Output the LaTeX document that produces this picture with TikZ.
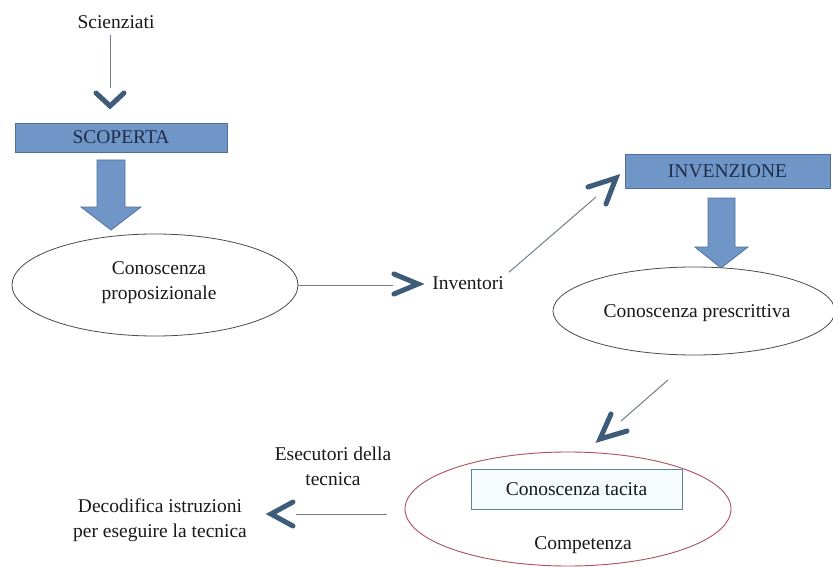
\documentclass[tikz,border=0pt]{standalone}
\usepackage{fontspec}
\setmainfont{Liberation Serif}
\usetikzlibrary{shapes.geometric,calc}
\definecolor{boxfill}{RGB}{112,150,200}
\definecolor{boxdraw}{RGB}{80,112,155}
\definecolor{boxtext}{RGB}{30,45,75}
\definecolor{chevcol}{RGB}{62,92,122}
\definecolor{thincol}{RGB}{115,125,140}
\definecolor{ellcol}{RGB}{75,75,75}
\definecolor{redell}{RGB}{175,80,95}
\definecolor{tacdraw}{RGB}{90,135,150}
\definecolor{tacfill}{RGB}{246,251,253}
\definecolor{txtcol}{RGB}{25,25,25}
\tikzset{
  lbl/.style={text=txtcol, inner sep=0pt, font=\fontsize{19.5}{25}\selectfont, align=center},
  bluebox/.style={draw=boxdraw, fill=boxfill, line width=0.8pt, text=boxtext, inner sep=0pt,
                  font=\fontsize{19.5}{25}\selectfont},
  blockarrow/.style={draw=boxdraw, fill=boxfill, line width=0.8pt},
  ellbox/.style={ellipse, draw=ellcol, line width=0.8pt, fill=white, inner sep=0pt, text=txtcol,
                 font=\fontsize{19.5}{25}\selectfont, align=center},
  thinln/.style={draw=thincol, line width=1pt},
  chev/.style={draw=chevcol, line width=5pt, line cap=round, line join=miter},
}
\begin{document}
\begin{tikzpicture}[x=1pt,y=-1pt]
\useasboundingbox[fill=white] (0,0) rectangle (833,567);

% ---- top left: Scienziati -> SCOPERTA
\node[lbl] (sci) at (116,22) {Scienziati};
\coordinate (c1) at (110,88);
\draw[thinln] (sci.south -| c1) ++(0,6) -- (c1);
\coordinate (t1) at (110,106);
\draw[chev] ($(t1)+(-14,-13)$) -- (t1) -- ($(t1)+(14,-13)$);

\node[bluebox, minimum width=212pt, minimum height=29pt] (scop) at (121,137.5) {SCOPERTA};

% block arrow 1
\path[blockarrow] (97,160) -- (125,160) -- (125,207) -- (141,207) -- (111,230) -- (81,207) -- (97,207) -- cycle;

% ellipse 1
\node[ellbox, minimum width=286pt, minimum height=102pt] (e1) at (155,285) {};
\node[lbl] (e1t) at (159,283) {Conoscenza\\proposizionale};

% line to Inventori
\coordinate (c2) at (393,285);
\draw[thinln] (e1.east) -- (c2);
\coordinate (t2) at (418,284);
\draw[chev] ($(t2)+(-24,-10)$) -- (t2) -- ($(t2)+(-24,10)$);
\node[lbl] (inv) at (468,283) {Inventori};

% Inventori -> INVENZIONE
\coordinate (c3) at (596,197);
\draw[thinln] ($(inv.north east)+(5,-4)$) -- (c3);
\coordinate (t3) at (616,178);
\draw[chev] ($(t3)+(-28,9)$) -- (t3) -- ($(t3)+(-10,26)$);

\node[bluebox, minimum width=205pt, minimum height=34pt] (inve) at (727.5,171) {INVENZIONE};

% block arrow 2
\path[blockarrow] (708,198) -- (735,198) -- (735,247) -- (748,247) -- (721,268) -- (695,247) -- (708,247) -- cycle;

% ellipse 2
\node[ellbox, minimum width=282pt, minimum height=88pt] (e2) at (694,311) {};
\node[lbl] (e2t) at (697,313) {Conoscenza prescrittiva};

% down-left to competenza
\coordinate (c4s) at (668,380);
\coordinate (c4) at (621,421);
\draw[thinln] (c4s) -- (c4);
\coordinate (t4) at (600,439);
\draw[chev] ($(t4)+(11,-25)$) -- (t4) -- ($(t4)+(27,-8)$);

% red ellipse
\node[ellipse, draw=redell, line width=0.9pt, minimum width=326pt, minimum height=114pt, inner sep=0pt] (e3) at (568,509) {};
\node[draw=tacdraw, fill=tacfill, line width=1pt, minimum width=211pt, minimum height=40pt, inner sep=0pt,
      text=txtcol, font=\fontsize{19.5}{25}\selectfont] (tac) at (576.5,489) {Conoscenza tacita};
\node[lbl] (comp) at (583,545) {Competenza};

% left arrow
\coordinate (c5s) at (387,514);
\coordinate (c5) at (296,514);
\draw[thinln] (c5s) -- (c5);
\coordinate (t5) at (271,514);
\draw[chev] ($(t5)+(22,-12)$) -- (t5) -- ($(t5)+(22,12)$);

\node[lbl] (esec) at (333,466) {Esecutori della\\tecnica};
\node[lbl] (deco) at (160,520) {Decodifica istruzioni\\per eseguire la tecnica};
\end{tikzpicture}
\end{document}
